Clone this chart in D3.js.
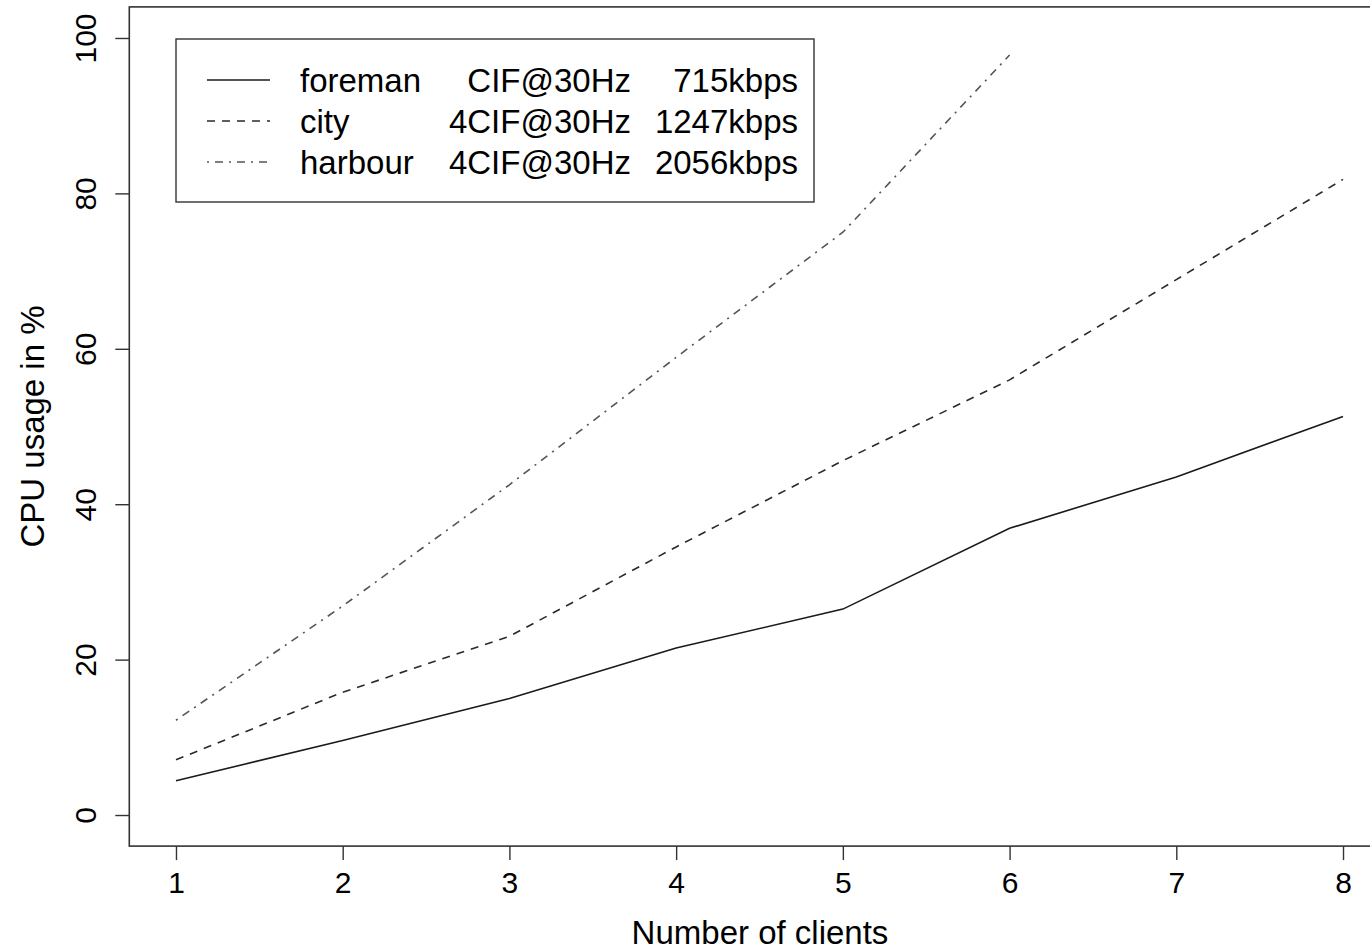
<!DOCTYPE html>
<html>
<head>
<meta charset="utf-8">
<script src="https://cdn.jsdelivr.net/npm/d3@7"></script>
<style>
  body { margin: 0; background: #fff; }
  svg { display: block; font-family: "Liberation Sans", Arial, sans-serif; }
</style>
</head>
<body>
<svg id="chart" width="1370" height="952"></svg>
<script>
// data
const clients = [1, 2, 3, 4, 5, 6, 7, 8];
const foreman = [4.4, 9.6, 15.0, 21.5, 26.5, 36.9, 43.5, 51.3];
const city = [7.1, 15.8, 23.0, 34.5, 45.6, 56.0, 68.9, 81.8];
const harbour = [12.2, 26.9, 42.5, 58.9, 75.0, 97.8];
const yTicks = [0, 20, 40, 60, 80, 100];

const legendNames = ["foreman", "city", "harbour"];
const legendFormats = ["CIF@30Hz", "4CIF@30Hz", "4CIF@30Hz"];
const legendRates = ["715kbps", "1247kbps", "2056kbps"];

const series = [
    { values: foreman, dash: null, color: "#1a1a1a" },
    { values: city, dash: "8,7", color: "#2a2a2a" },
    { values: harbour, dash: "2,6,8,6", color: "#555" }
];

const svg = d3.select("#chart");

// R style: 4% padding around the data range
const x = d3.scaleLinear().domain([0.72, 8.28]).range([129.3, 1389.7]);
const y = d3.scaleLinear().domain([-4, 104]).range([846.1, 6.9]);

// plot box
svg.append("rect")
    .attr("x", x(0.72))
    .attr("y", y(104))
    .attr("width", x(8.28) - x(0.72))
    .attr("height", y(-4) - y(104))
    .attr("fill", "none")
    .attr("stroke", "#333")
    .attr("stroke-width", 1.6);

// x axis
const xAxis = svg.append("g")
    .attr("transform", `translate(0, ${y(-4)})`)
    .call(d3.axisBottom(x).tickValues(clients).tickSize(14).tickPadding(12).tickFormat(d3.format("d")));
xAxis.select(".domain").remove();
xAxis.selectAll("line").attr("stroke", "#333").attr("stroke-width", 1.4);
xAxis.selectAll("text")
    .attr("fill", "#000")
    .attr("font-size", 30)
    .attr("font-family", "Liberation Sans, Arial, sans-serif");

// y axis, labels rotated like R's default
const yAxis = svg.append("g")
    .attr("transform", `translate(${x(0.72)}, 0)`)
    .call(d3.axisLeft(y).tickValues(yTicks).tickSize(14).tickFormat(d3.format("d")));
yAxis.select(".domain").remove();
yAxis.selectAll("line").attr("stroke", "#333").attr("stroke-width", 1.4);
yAxis.selectAll("text")
    .attr("x", null).attr("dy", null)
    .attr("text-anchor", "middle")
    .attr("transform", "translate(-33, 0) rotate(-90)")
    .attr("fill", "#000")
    .attr("font-size", 30)
    .attr("font-family", "Liberation Sans, Arial, sans-serif");

// axis titles
svg.append("text")
    .attr("x", 760)
    .attr("y", 944)
    .attr("text-anchor", "middle")
    .attr("font-size", 33)
    .text("Number of clients");

svg.append("text")
    .attr("transform", `translate(44, ${(y(-4) + y(104)) / 2}) rotate(-90)`)
    .attr("text-anchor", "middle")
    .attr("font-size", 33)
    .text("CPU usage in %");

// lines
const line = d3.line()
    .x((d, i) => x(clients[i]))
    .y(d => y(d));

svg.selectAll(".series")
    .data(series)
    .enter()
    .append("path")
    .attr("class", "series")
    .attr("d", d => line(d.values))
    .attr("fill", "none")
    .attr("stroke", d => d.color)
    .attr("stroke-width", 1.6)
    .attr("stroke-dasharray", d => d.dash);

// legend
const legend = svg.append("g");
legend.append("rect")
    .attr("x", 176)
    .attr("y", 39)
    .attr("width", 638)
    .attr("height", 163)
    .attr("fill", "#fff")
    .attr("stroke", "#333")
    .attr("stroke-width", 1.4);

const rowY = i => 80 + i * 41;

legend.selectAll(".key")
    .data(series)
    .enter()
    .append("line")
    .attr("x1", 207).attr("x2", 270)
    .attr("y1", (d, i) => rowY(i)).attr("y2", (d, i) => rowY(i))
    .attr("stroke", d => d.color)
    .attr("stroke-width", 1.6)
    .attr("stroke-dasharray", d => d.dash);

const cols = [
    { labels: legendNames, x: 300, anchor: "start" },
    { labels: legendFormats, x: 631, anchor: "end" },
    { labels: legendRates, x: 798, anchor: "end" }
];
cols.forEach(c => {
    legend.selectAll(null)
        .data(c.labels)
        .enter()
        .append("text")
        .attr("x", c.x)
        .attr("y", (d, i) => rowY(i) + 12)
        .attr("text-anchor", c.anchor)
        .attr("font-size", 33)
        .text(d => d);
});
</script>
</body>
</html>
